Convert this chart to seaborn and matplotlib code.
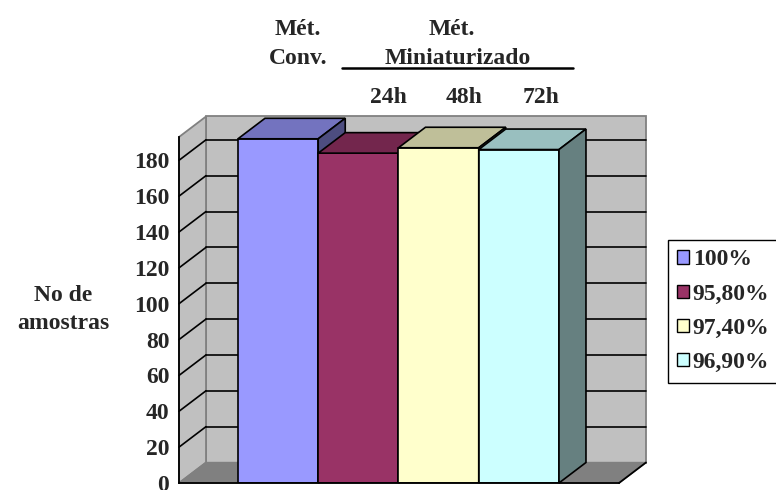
import matplotlib
matplotlib.use("Agg")
import matplotlib.pyplot as plt
from matplotlib.patches import Polygon, Patch
from matplotlib.lines import Line2D
import matplotlib.colors as mcolors
import seaborn as sns
import pandas as pd
import numpy as np

# Data
series_labels = ["100%", "95,80%", "97,40%", "96,90%"]
sample_counts = [192, 184, 187, 186]
bar_colors = ["#9999FF", "#993366", "#FFFFCC", "#CCFFFF"]
y_ticks = [0, 20, 40, 60, 80, 100, 120, 140, 160, 180]
y_max = 193
method_titles = [("Mét.", "Conv."), ("Mét.", "Miniaturizado")]
time_labels = ["24h", "48h", "72h"]
y_label = "No de\namostras"

W, H = 776, 490
FS = 17
WALL = "#C0C0C0"
WALL_EDGE = "#808080"
FLOOR = "#808080"

sns.set_theme(style="white")
plt.rcParams["font.family"] = ["Liberation Serif", "DejaVu Serif"]
plt.rcParams["font.weight"] = "bold"

fig = plt.figure(figsize=(W / 100, H / 100), dpi=100)
fig.patch.set_facecolor("white")
# front plane of the 3-D box
ax = fig.add_axes([179 / W, 7 / H, 440 / W, 346 / H])

df = pd.DataFrame({"serie": series_labels, "amostras": sample_counts})
sns.barplot(data=df, x="serie", y="amostras", hue="serie", palette=bar_colors,
            width=1.0, saturation=1, edgecolor="black", linewidth=1.2,
            legend=False, ax=ax)
bars = sorted(ax.patches, key=lambda p: p.get_x())

xmin, xmax = -1.235, 4.248
ax.set_xlim(xmin, xmax)
ax.set_ylim(0, y_max)
ax.patch.set_visible(False)

# depth offset of the box (in pixels), converted to data units
p0 = ax.transData.transform((0, 0))
p1 = ax.transData.transform((1, 1))
dxu = 27.0 / (p1[0] - p0[0])
dyu = 20.5 / (p1[1] - p0[1])


def poly(pts, **kw):
    ax.add_patch(Polygon(pts, closed=True, clip_on=False, **kw))


def seg(a, b, **kw):
    ax.add_line(Line2D([a[0], b[0]], [a[1], b[1]], clip_on=False, **kw))


# back wall, side wall and floor
poly([(xmin + dxu, dyu), (xmax + dxu, dyu), (xmax + dxu, y_max + dyu), (xmin + dxu, y_max + dyu)],
     fc=WALL, ec=WALL_EDGE, lw=1.3, zorder=0.2)
poly([(xmin, 0), (xmin + dxu, dyu), (xmin + dxu, y_max + dyu), (xmin, y_max)],
     fc=WALL, ec=WALL_EDGE, lw=1.3, zorder=0.3)
poly([(xmin, 0), (xmax, 0), (xmax + dxu, dyu), (xmin + dxu, dyu)],
     fc=FLOOR, ec=WALL_EDGE, lw=1.0, zorder=0.4)
seg((xmax, 0), (xmax + dxu, dyu), color="black", lw=1.3, zorder=0.5)

# gridlines on the back wall and side wall
for t in y_ticks[1:]:
    seg((xmin + dxu, t + dyu), (xmax + dxu, t + dyu), color="black", lw=1.2, zorder=0.6)
    seg((xmin, t), (xmin + dxu, t + dyu), color="black", lw=1.2, zorder=0.6)

# top and side faces of each column
for i, bar in enumerate(bars):
    x0, w, h = bar.get_x(), bar.get_width(), bar.get_height()
    rgb = np.array(mcolors.to_rgb(bar.get_facecolor()))
    bar.set_zorder(3 + 2 * i)
    poly([(x0, h), (x0 + w, h), (x0 + w + dxu, h + dyu), (x0 + dxu, h + dyu)],
         fc=rgb * 0.75, ec="black", lw=1.2, zorder=4 + 2 * i)
    poly([(x0 + w, 0), (x0 + w + dxu, dyu), (x0 + w + dxu, h + dyu), (x0 + w, h)],
         fc=rgb * 0.5, ec="black", lw=1.2, zorder=4 + 2 * i)

# axes styling
for s in ("top", "right"):
    ax.spines[s].set_visible(False)
for s in ("left", "bottom"):
    ax.spines[s].set_color("black")
    ax.spines[s].set_linewidth(1.3)
    ax.spines[s].set_zorder(20)
ax.set_yticks(y_ticks)
ax.set_yticklabels([str(t) for t in y_ticks], fontsize=FS, fontweight="bold")
ax.set_xticks([xmin, xmax])
ax.set_xticklabels(["", ""])
ax.tick_params(axis="y", direction="out", length=7, width=1.3, color="black", pad=0)
ax.tick_params(axis="x", direction="out", length=6, width=1.3, color="black")
ax.set_xlabel("")
ax.set_ylabel(y_label, rotation=0, fontsize=FS, fontweight="bold",
              ha="center", va="center", linespacing=1.45)
ax.yaxis.set_label_coords((63 - 179) / 440, (483 - 309.5) / 346)


# headings above the columns
def ptext(x, y, s):
    fig.text(x / W, 1 - y / H, s, ha="center", va="baseline",
             fontsize=FS, fontweight="bold")


ptext(298, 35, method_titles[0][0])
ptext(298, 64, method_titles[0][1])
ptext(452, 35, method_titles[1][0])
ptext(458, 64, method_titles[1][1])
fig.add_artist(Line2D([342 / W, 573 / W], [1 - 68 / H, 1 - 68 / H], color="black", lw=1.8))
for x, s in zip([388, 464, 541], time_labels):
    ptext(x, 103, s)

# legend
handles = [Patch(facecolor=c, edgecolor="black", linewidth=1.0) for c in bar_colors]
leg = fig.legend(handles, series_labels, loc="upper left",
                 bbox_to_anchor=(668 / W, 1 - 240 / H), borderaxespad=0,
                 frameon=True, fancybox=False, edgecolor="black", framealpha=1,
                 borderpad=0.4, handlelength=0.5, handleheight=0.5,
                 handletextpad=0.15, labelspacing=0.56,
                 prop=dict(size=FS, weight="bold"))
leg.get_frame().set_linewidth(1.0)

fig.savefig("out.png", dpi=100)
